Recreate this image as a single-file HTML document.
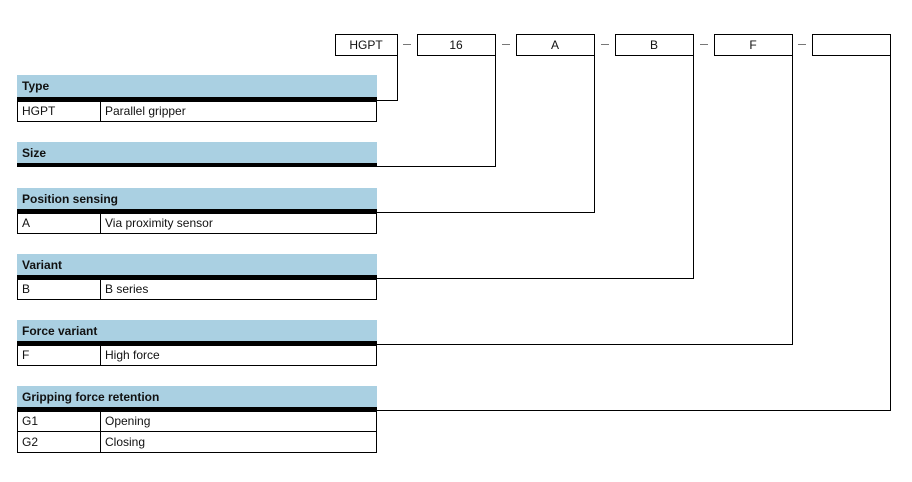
<!DOCTYPE html>
<html><head><meta charset="utf-8"><style>
html,body{margin:0;padding:0;background:#fff;width:912px;height:482px;overflow:hidden}
svg text{font-family:"Liberation Sans",sans-serif;font-size:12px;fill:#111}
.h{font-weight:bold;font-size:12px}
</style></head><body>
<svg width="912" height="482" viewBox="0 0 912 482" xmlns="http://www.w3.org/2000/svg">
<g fill="none" stroke="#000" stroke-width="1">
<rect x="335.5" y="34.5" width="62" height="21"/>
<rect x="417.5" y="34.5" width="78" height="21"/>
<rect x="516.5" y="34.5" width="78" height="21"/>
<rect x="615.5" y="34.5" width="78" height="21"/>
<rect x="714.5" y="34.5" width="78" height="21"/>
<rect x="812.5" y="34.5" width="78" height="21"/>
<polyline points="397.5,55 397.5,100.5 377,100.5"/>
<polyline points="495.5,55 495.5,166.5 377,166.5"/>
<polyline points="594.5,55 594.5,212.5 377,212.5"/>
<polyline points="693.5,55 693.5,278.5 377,278.5"/>
<polyline points="792.5,55 792.5,344.5 377,344.5"/>
<polyline points="890.5,55 890.5,410.5 377,410.5"/>
</g>
<g stroke="#777" stroke-width="1">
<line x1="403" y1="44.5" x2="411" y2="44.5"/><line x1="502" y1="44.5" x2="510" y2="44.5"/>
<line x1="601" y1="44.5" x2="609" y2="44.5"/><line x1="700" y1="44.5" x2="708" y2="44.5"/>
<line x1="798" y1="44.5" x2="806" y2="44.5"/>
</g>
<g text-anchor="middle">
<text x="366" y="49">HGPT</text><text x="456" y="49">16</text><text x="555" y="49">A</text>
<text x="654" y="49">B</text><text x="753" y="49">F</text>
</g>
<!-- Type -->
<rect x="17" y="75" width="360" height="22" fill="#aad0e2"/><rect x="17" y="97" width="360" height="4" fill="#000"/>
<text class="h" x="22" y="90">Type</text>
<rect x="17.5" y="101.5" width="359" height="20" fill="none" stroke="#000"/><line x1="100.5" y1="101" x2="100.5" y2="121" stroke="#000"/>
<text x="22" y="115">HGPT</text><text x="105" y="115">Parallel gripper</text>
<!-- Size -->
<rect x="17" y="142" width="360" height="21" fill="#aad0e2"/><rect x="17" y="163" width="360" height="4" fill="#000"/>
<text class="h" x="22" y="157">Size</text>
<!-- Position sensing -->
<rect x="17" y="188" width="360" height="21" fill="#aad0e2"/><rect x="17" y="209" width="360" height="4" fill="#000"/>
<text class="h" x="22" y="203">Position sensing</text>
<rect x="17.5" y="213.5" width="359" height="20" fill="none" stroke="#000"/><line x1="100.5" y1="213" x2="100.5" y2="233" stroke="#000"/>
<text x="22" y="227">A</text><text x="105" y="227">Via proximity sensor</text>
<!-- Variant -->
<rect x="17" y="254" width="360" height="21" fill="#aad0e2"/><rect x="17" y="275" width="360" height="4" fill="#000"/>
<text class="h" x="22" y="269">Variant</text>
<rect x="17.5" y="279.5" width="359" height="20" fill="none" stroke="#000"/><line x1="100.5" y1="279" x2="100.5" y2="299" stroke="#000"/>
<text x="22" y="293">B</text><text x="105" y="293">B series</text>
<!-- Force variant -->
<rect x="17" y="320" width="360" height="21" fill="#aad0e2"/><rect x="17" y="341" width="360" height="4" fill="#000"/>
<text class="h" x="22" y="335">Force variant</text>
<rect x="17.5" y="345.5" width="359" height="20" fill="none" stroke="#000"/><line x1="100.5" y1="345" x2="100.5" y2="365" stroke="#000"/>
<text x="22" y="359">F</text><text x="105" y="359">High force</text>
<!-- Gripping -->
<rect x="17" y="386" width="360" height="21" fill="#aad0e2"/><rect x="17" y="407" width="360" height="4" fill="#000"/>
<text class="h" x="22" y="401">Gripping force retention</text>
<rect x="17.5" y="411.5" width="359" height="41" fill="none" stroke="#000"/>
<line x1="17" y1="431.5" x2="377" y2="431.5" stroke="#000"/>
<line x1="100.5" y1="411" x2="100.5" y2="452" stroke="#000"/>
<text x="22" y="425">G1</text><text x="105" y="425">Opening</text>
<text x="22" y="446">G2</text><text x="105" y="446">Closing</text>
</svg>
</body></html>
